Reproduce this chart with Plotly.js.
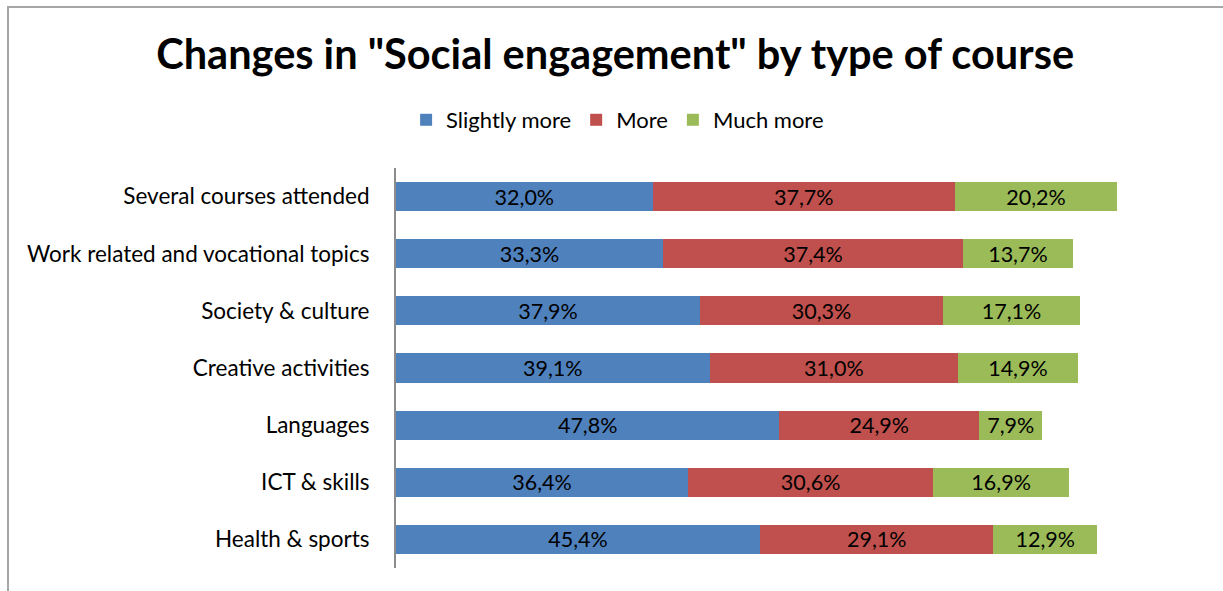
<!DOCTYPE html>
<html><head><meta charset="utf-8">
<script src="https://cdn.plot.ly/plotly-3.0.1.min.js"></script>
<style>
html,body{margin:0;padding:0;background:#fff;overflow:hidden;}
#frame{position:absolute;left:7px;top:6px;width:1240px;height:620px;border-left:2px solid #a6a6a6;border-top:2px solid #a6a6a6;}
#chart{position:absolute;left:0;top:0;width:1223px;height:591px;}
</style></head><body>
<div id="frame"></div>
<div id="chart"></div>
<script>
var categories = ["Several courses attended","Work related and vocational topics","Society & culture","Creative activities","Languages","ICT & skills","Health & sports"];
var slightlyMore = [32.0, 33.3, 37.9, 39.1, 47.8, 36.4, 45.4];
var more = [37.7, 37.4, 30.3, 31.0, 24.9, 30.6, 29.1];
var muchMore = [20.2, 13.7, 17.1, 14.9, 7.9, 16.9, 12.9];
var seriesNames = ["Slightly more","More","Much more"];
var colors = ["#4f81bd","#c0504d","#9bbb59"];

function fmt(arr){ return arr.map(function(v){ return v.toFixed(1).replace('.', ',') + '%'; }); }
var FONT = "Lato, 'Liberation Sans', sans-serif";
var series = [slightlyMore, more, muchMore];
var data = series.map(function(vals, i){
  return {
    type:'bar', orientation:'h', name: seriesNames[i],
    y: categories, x: vals, text: fmt(vals),
    textposition:'inside', insidetextanchor:'middle', constraintext:'none',
    textfont:{family:FONT, size:21.5, color:'#000'},
    marker:{color:colors[i]}, hoverinfo:'none', cliponaxis:false
  };
});
var layout = {
  width:1223, height:591,
  barmode:'stack', bargap:0.49,
  paper_bgcolor:'rgba(0,0,0,0)', plot_bgcolor:'rgba(0,0,0,0)',
  margin:{l:396, r:25, t:168, b:23},
  title:{text:'<b>Changes in "Social engagement" by type of course</b>', xref:'container', x:0.503, xanchor:'center', yref:'container', y:0.907, yanchor:'middle', font:{family:FONT, size:41.5, color:'#000'}},
  legend:{orientation:'h', xref:'container', x:0.505, xanchor:'center', yref:'container', y:0.797, yanchor:'middle', font:{family:FONT, size:22, color:'#000'}, traceorder:'normal', itemwidth:20},
  xaxis:{range:[0,100], visible:false, showgrid:false, zeroline:false},
  yaxis:{autorange:'reversed', showline:true, linecolor:'#8c8c8c', linewidth:2, ticks:'', showgrid:false, ticklabelstandoff:20, tickfont:{family:FONT, size:22.5, color:'#000'}},
  uniformtext:{mode:false}
};
Plotly.newPlot('chart', data, layout, {staticPlot:true, displayModeBar:false});
</script>
</body></html>
